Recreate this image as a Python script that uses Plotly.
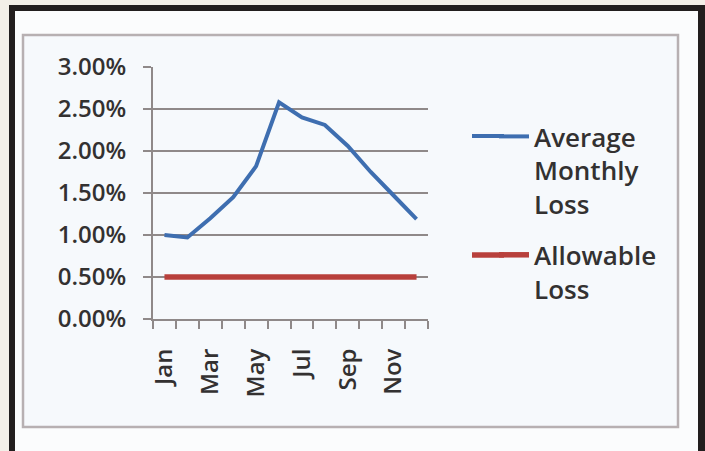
import plotly.graph_objects as go

months = ["Jan", "Feb", "Mar", "Apr", "May", "Jun", "Jul", "Aug", "Sep", "Oct", "Nov", "Dec"]
avg_loss = [0.0100, 0.0097, 0.0120, 0.0145, 0.0182, 0.0258, 0.0240, 0.0231, 0.0206, 0.0175, 0.0147, 0.0119]
allow_loss = [0.0050] * 12
label_months = ["Jan", "Mar", "May", "Jul", "Sep", "Nov"]

W_PX, H_PX = 705, 451
L, R_EDGE, T, B_EDGE = 153, 428, 67, 319
PW, PH = R_EDGE - L, B_EDGE - T


def px(x):
    return (x - L) / PW


def py(y):
    return (B_EDGE - y) / PH


xi = [months.index(m) for m in months]
tick_pos = [months.index(m) for m in label_months]

FONT = "Open Sans"
TXT = "#333131"
GRID = "#8f8989"
BLUE = "#3e6eb0"
RED = "#b8403c"

fig = go.Figure()
fig.add_trace(go.Scatter(x=xi, y=avg_loss, mode="lines", name="Average<br>Monthly<br>Loss",
                         line=dict(color=BLUE, width=4), legendgroup="a"))
fig.add_trace(go.Scatter(x=xi, y=allow_loss, mode="lines", name="Allowable<br>Loss",
                         line=dict(color=RED, width=5.5), legendgroup="b"))

shapes = [
    # dark photo frame
    dict(type="rect", xref="paper", yref="paper", x0=px(9), x1=px(710), y0=py(5), y1=py(460),
         fillcolor="#221e1e", line=dict(width=0), layer="below"),
    dict(type="rect", xref="paper", yref="paper", x0=px(15), x1=px(698), y0=py(11), y1=py(460),
         fillcolor="#fbfcfd", line=dict(width=0), layer="below"),
    # chart area border
    dict(type="rect", xref="paper", yref="paper", x0=px(23), x1=px(678), y0=py(35), y1=py(427),
         fillcolor="#f6f9fc", line=dict(color="#b7b0b2", width=2.5), layer="below"),
    # longer legend keys (extend the built-in 30px key to the left)
    dict(type="line", xref="paper", yref="paper", x0=px(472), x1=px(504), y0=py(136), y1=py(136),
         line=dict(color=BLUE, width=4), layer="above"),
    dict(type="line", xref="paper", yref="paper", x0=px(472), x1=px(504), y0=py(255), y1=py(255),
         line=dict(color=RED, width=5.5), layer="above"),
]

fig.update_layout(
    width=W_PX, height=H_PX,
    margin=dict(l=L, r=W_PX - R_EDGE, t=T, b=H_PX - B_EDGE, pad=0),
    paper_bgcolor="#f3efe8",
    plot_bgcolor="rgba(0,0,0,0)",
    font=dict(family=FONT, size=24, color=TXT, weight=600),
    shapes=shapes,
    showlegend=True,
    legend=dict(x=px(494), y=py(113), xanchor="left", yanchor="top", valign="top",
                bgcolor="rgba(0,0,0,0)", font=dict(size=26, color=TXT, weight=600), itemwidth=30,
                tracegroupgap=14),
)

fig.update_yaxes(range=[0, 0.03], dtick=0.005, tickformat=".2%", showgrid=True,
                 gridcolor=GRID, gridwidth=2, zeroline=False, showline=True,
                 linecolor=GRID, linewidth=2, ticks="outside", ticklen=8,
                 tickcolor=GRID, tickwidth=2, ticklabelstandoff=12,
                 tickfont=dict(size=24, color=TXT, weight=600))
fig.update_xaxes(range=[-0.5, len(months) - 0.5], tickmode="array", tickvals=tick_pos,
                 ticktext=label_months, tickangle=-90, ticks="", showgrid=False,
                 zeroline=False, showline=True, linecolor=GRID, linewidth=2,
                 ticklabelstandoff=18, tickfont=dict(size=24, color=TXT, weight=600),
                 minor=dict(tickmode="array", tickvals=[i - 0.5 for i in range(len(months) + 1)],
                            ticks="outside", ticklen=8, tickcolor=GRID, tickwidth=2,
                            showgrid=False))

fig.write_html("out.html")
